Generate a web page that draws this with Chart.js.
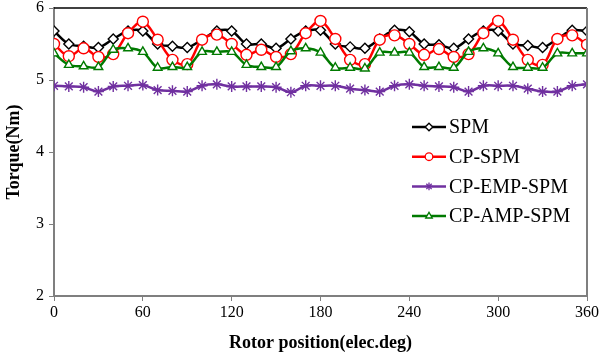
<!DOCTYPE html>
<html>
<head>
<meta charset="utf-8">
<script src="https://cdn.jsdelivr.net/npm/chart.js@4/dist/chart.umd.min.js"></script>
<style>
 html,body{margin:0;padding:0;background:#fff;}
 #wrap{width:599px;height:359px;position:relative;}
</style>
</head>
<body>
<div id="wrap"><canvas id="cv" width="599" height="359"></canvas></div>
<script>
/* ---------------- data (every 10 elec.deg) ---------------- */
const DEG=[0,10,20,30,40,50,60,70,80,90,100,110,120,130,140,150,160,170,180,190,200,210,220,230,240,250,260,270,280,290,300,310,320,330,340,350,360];
const SPM=[5.68,5.50,5.47,5.45,5.57,5.68,5.68,5.50,5.47,5.45,5.56,5.68,5.68,5.50,5.50,5.44,5.57,5.68,5.69,5.50,5.46,5.44,5.57,5.69,5.67,5.50,5.49,5.44,5.57,5.68,5.68,5.50,5.48,5.45,5.57,5.69,5.68];
const CP_SPM=[5.50,5.33,5.44,5.32,5.36,5.65,5.81,5.56,5.28,5.22,5.56,5.63,5.50,5.35,5.42,5.32,5.36,5.65,5.82,5.57,5.28,5.22,5.56,5.62,5.50,5.35,5.43,5.32,5.36,5.65,5.82,5.56,5.28,5.21,5.57,5.62,5.49];
const CP_EMP_SPM=[4.92,4.91,4.90,4.84,4.91,4.92,4.93,4.86,4.85,4.84,4.92,4.94,4.91,4.91,4.91,4.90,4.83,4.92,4.92,4.92,4.88,4.86,4.84,4.92,4.94,4.92,4.91,4.90,4.84,4.92,4.92,4.92,4.88,4.84,4.84,4.92,4.94];
const CP_AMP_SPM=[5.37,5.21,5.19,5.18,5.42,5.44,5.39,5.17,5.18,5.18,5.39,5.39,5.39,5.21,5.18,5.18,5.40,5.44,5.38,5.17,5.17,5.16,5.38,5.38,5.38,5.18,5.18,5.17,5.39,5.44,5.37,5.18,5.17,5.17,5.37,5.37,5.37];
const X_TICKS=[0,60,120,180,240,300,360];
const Y_TICKS=[2,3,4,5,6];

const FONT="'Liberation Serif','Times New Roman',serif";
const pts=arr=>arr.map((v,i)=>({x:DEG[i],y:v}));

function ds(label,data,color,style,r,order){
 return {label,data:pts(data),borderColor:color,backgroundColor:'#fff',borderWidth:2.5,
  pointStyle:style,pointRadius:r,pointBorderWidth:1.4,pointBorderColor:color,pointBackgroundColor:style==='star'?color:'#fff',
  tension:0.35,order};
}

/* ---------------- frame (top + right edges of the plot box) ---------------- */
const frame={id:'frame',afterDatasetsDraw(c){
 const a=c.chartArea,x=c.ctx; x.save();
 x.lineWidth=1.5; x.strokeStyle='#000';
 x.beginPath(); x.moveTo(a.left,a.top); x.lineTo(a.right,a.top); x.stroke();
 x.lineWidth=2; x.strokeStyle='#7f7f7f';
 x.beginPath(); x.moveTo(a.right,a.top); x.lineTo(a.right,a.bottom); x.stroke();
 x.restore();
}};

/* ---------------- legend inside the plot ---------------- */
const inLegend={id:'inLegend',afterDraw(c){
 const a=c.chartArea,x=c.ctx; x.save();
 const x0=a.right-175,y0=a.top+119,step=29.7;
 c.data.datasets.forEach((d,i)=>{
  const y=y0+i*step;
  x.strokeStyle=d.borderColor; x.lineWidth=d.borderWidth;
  x.beginPath(); x.moveTo(x0,y); x.lineTo(x0+34,y); x.stroke();
  x.lineWidth=1.3; x.fillStyle=d.pointBackgroundColor; x.strokeStyle=d.pointBorderColor;
  Chart.helpers.drawPoint(x,{pointStyle:d.pointStyle,radius:3.8,borderWidth:1.3},x0+17,y);
  x.fillStyle='#000'; x.font='20px '+FONT; x.textAlign='left'; x.textBaseline='middle';
  x.fillText(d.label,x0+37,y+1);
 });
 x.restore();
}};

new Chart(document.getElementById('cv'),{
 type:'line',
 data:{datasets:[
  ds('SPM',SPM,'#000000','rectRot',5,3),
  ds('CP-SPM',CP_SPM,'#ff0000','circle',5.5,2),
  ds('CP-EMP-SPM',CP_EMP_SPM,'#7030a0','star',5.5,1),
  ds('CP-AMP-SPM',CP_AMP_SPM,'#007a00','triangle',5,0)
 ]},
 options:{
  responsive:false,animation:false,devicePixelRatio:1,
  layout:{padding:{top:8,right:12,bottom:0,left:0}},
  plugins:{legend:{display:false},tooltip:{enabled:false}},
  scales:{
   x:{type:'linear',min:0,max:360,
    afterBuildTicks:s=>{s.ticks=X_TICKS.map(v=>({value:v}));},
    afterFit:s=>{s.height=63;s.paddingLeft=0;s.paddingRight=0;},
    grid:{drawOnChartArea:false,drawTicks:true,tickLength:5,color:'#7f7f7f',lineWidth:1},
    border:{color:'#7f7f7f',width:2},
    ticks:{color:'#000',font:{family:FONT,size:16},padding:2,maxRotation:0},
    title:{display:true,text:'Rotor position(elec.deg)',color:'#000',font:{family:FONT,size:18,weight:'bold'},padding:{top:0,bottom:5}}
   },
   y:{min:2,max:6,
    afterBuildTicks:s=>{s.ticks=Y_TICKS.map(v=>({value:v}));},
    afterFit:s=>{s.width=54;s.paddingTop=0;s.paddingBottom=0;},
    grid:{drawOnChartArea:false,drawTicks:true,tickLength:5,color:'#7f7f7f',lineWidth:1},
    border:{color:'#7f7f7f',width:2},
    ticks:{color:'#000',font:{family:FONT,size:16},padding:5},
    title:{display:true,text:'Torque(Nm)',color:'#000',font:{family:FONT,size:18,weight:'bold'},padding:{top:4,bottom:0}}
   }
  }
 },
 plugins:[frame,inLegend]
});
</script>
</body>
</html>
